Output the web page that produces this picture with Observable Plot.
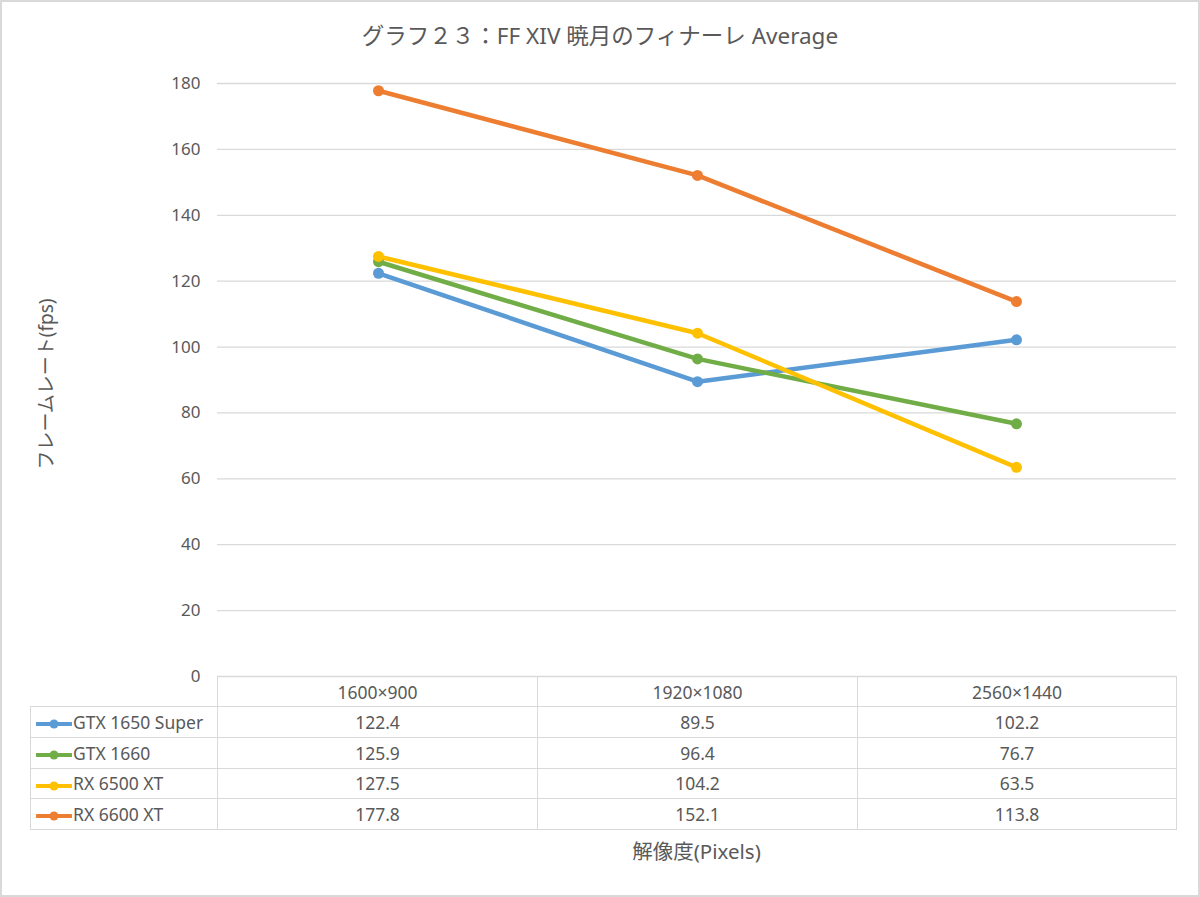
<!DOCTYPE html>
<html><head><meta charset="utf-8">
<script src="https://cdn.jsdelivr.net/npm/d3@7"></script>
<script src="https://cdn.jsdelivr.net/npm/@observablehq/plot@0.6"></script>
<style>
body{margin:0;background:#fff;}
#wrap{position:relative;width:1200px;height:897px;overflow:hidden;background:#fff;font-family:"Noto Sans","Noto Sans CJK JP",sans-serif;color:#595959;}
#frame{position:absolute;left:0;top:0;width:1200px;height:897px;box-sizing:border-box;border:2px solid #d9d9d9;pointer-events:none;}
#title{position:absolute;left:0;width:1200px;top:21px;text-align:center;font-size:22.5px;line-height:30px;color:#595959;}
#chart{position:absolute;left:0;top:0;}
#ylab{position:absolute;left:45px;top:384px;transform:translate(-50%,-50%) rotate(-90deg);font-size:19px;white-space:nowrap;}
#xlab{position:absolute;left:217px;width:959px;top:837px;text-align:center;font-size:20.5px;line-height:28px;}
#tbl{position:absolute;left:30px;top:676px;border-collapse:collapse;table-layout:fixed;font-size:17.5px;color:#595959;}
#tbl td{border:1px solid #d9d9d9;padding:0;text-align:center;white-space:nowrap;overflow:hidden;}
#tbl tr.hdr td{height:29px;}
#tbl tr.row td{height:29.75px;}
#tbl td.empty{border:none;}
#tbl td.name{text-align:left;}
#tbl td.name svg{vertical-align:middle;margin-left:5px;margin-right:1px;}
</style></head>
<body>
<div id="wrap">
  <div id="chart"></div>
  <div id="title"></div>
  <div id="ylab"></div>
  <table id="tbl"></table>
  <div id="xlab"></div>
  <div id="frame"></div>
</div>
<script>
const titleText = "グラフ２３：FF XIV 暁月のフィナーレ Average";
const yLabel = "フレームレート(fps)";
const xLabel = "解像度(Pixels)";
const resolutions = ["1600×900", "1920×1080", "2560×1440"];
const seriesNames = ["GTX 1650 Super", "GTX 1660", "RX 6500 XT", "RX 6600 XT"];
const seriesColors = ["#5b9bd5", "#70ad47", "#ffc000", "#ed7d31"];
const gtx1650Super = [122.4, 89.5, 102.2];
const gtx1660 = [125.9, 96.4, 76.7];
const rx6500xt = [127.5, 104.2, 63.5];
const rx6600xt = [177.8, 152.1, 113.8];
const yTicks = [0, 20, 40, 60, 80, 100, 120, 140, 160, 180];

const seriesValues = [gtx1650Super, gtx1660, rx6500xt, rx6600xt];
const data = seriesNames.flatMap((name, i) =>
  resolutions.map((res, j) => ({name, res, fps: seriesValues[i][j]})));

const font = '"Noto Sans","Noto Sans CJK JP",sans-serif';
const chart = Plot.plot({
  width: 1200, height: 690,
  marginLeft: 217, marginRight: 24, marginTop: 83, marginBottom: 14,
  style: {fontSize: "17px", fontFamily: font, color: "#595959", background: "transparent"},
  x: {type: "point", domain: resolutions, padding: 0.5, axis: null},
  y: {domain: [0, 180], ticks: yTicks, label: null},
  color: {domain: seriesNames, range: seriesColors},
  marks: [
    Plot.gridY(yTicks, {stroke: "#d9d9d9", strokeOpacity: 1, strokeWidth: 1.3}),
    Plot.axisY(yTicks, {tickSize: 0, tickPadding: 17, label: null, fontSize: 17}),
    Plot.line(data, {x: "res", y: "fps", z: "name", stroke: "name", strokeWidth: 4.5, strokeLinecap: "round", strokeLinejoin: "round"}),
    Plot.dot(data, {x: "res", y: "fps", fill: "name", r: 5.5, stroke: "none"})
  ]
});
document.getElementById("chart").appendChild(chart);
document.getElementById("title").textContent = titleText;
document.getElementById("ylab").textContent = yLabel;
document.getElementById("xlab").textContent = xLabel;

const tbl = document.getElementById("tbl");
const colW = [187, 320, 320, 319];
const cg = document.createElement("colgroup");
colW.forEach(w => { const c = document.createElement("col"); c.style.width = w + "px"; cg.appendChild(c); });
tbl.appendChild(cg);
tbl.style.width = colW.reduce((a, b) => a + b, 0) + "px";
const hdr = document.createElement("tr"); hdr.className = "hdr";
const e = document.createElement("td"); e.className = "empty"; hdr.appendChild(e);
resolutions.forEach(r => { const td = document.createElement("td"); td.textContent = r; hdr.appendChild(td); });
tbl.appendChild(hdr);
seriesNames.forEach((name, i) => {
  const tr = document.createElement("tr"); tr.className = "row";
  const td = document.createElement("td"); td.className = "name";
  td.innerHTML = `<svg width="36" height="12"><line x1="1" y1="6" x2="35" y2="6" stroke="${seriesColors[i]}" stroke-width="4" stroke-linecap="round"/><circle cx="18" cy="6" r="4.5" fill="${seriesColors[i]}"/></svg>`;
  td.appendChild(document.createTextNode(name));
  tr.appendChild(td);
  seriesValues[i].forEach(v => { const c = document.createElement("td"); c.textContent = v.toFixed(1); tr.appendChild(c); });
  tbl.appendChild(tr);
});
</script>
</body></html>
